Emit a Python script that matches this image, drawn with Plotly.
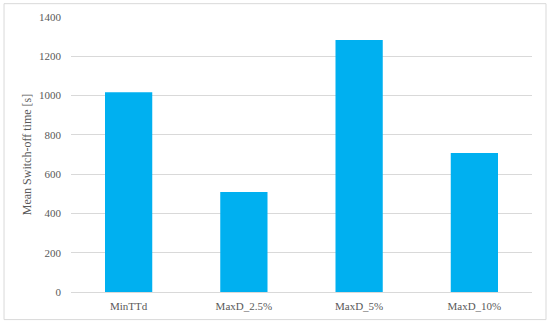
import plotly.graph_objects as go

# data
strategies = ["MinTTd", "MaxD_2.5%", "MaxD_5%", "MaxD_10%"]
switch_off_s = [1017, 509, 1283, 708]
y_ticks = [0, 200, 400, 600, 800, 1000, 1200, 1400]

_BAR = "#00B0F0"
_GRID = "#D9D9D9"
_TXT = "#595959"
_FONT = "Liberation Serif, DejaVu Serif, serif"

fig = go.Figure(go.Bar(
    x=strategies, y=switch_off_s,
    marker=dict(color=_BAR, line=dict(width=0)),
))

fig.update_layout(
    width=550, height=324,
    paper_bgcolor="white",
    plot_bgcolor="white",
    font=dict(family=_FONT, color=_TXT, size=11),
    margin=dict(l=71, r=18, t=17, b=32),
    bargap=0.59,
    showlegend=False,
    xaxis=dict(
        showgrid=False, ticks="", showline=True, linecolor=_GRID, linewidth=1,
        ticklabelstandoff=4,
        tickfont=dict(size=11, color=_TXT),
    ),
    yaxis=dict(
        range=[0, 1400], tickvals=y_ticks,
        showgrid=True, gridcolor=_GRID, gridwidth=1,
        zeroline=True, zerolinecolor=_GRID, zerolinewidth=1,
        ticks="", ticklabelstandoff=9,
        tickfont=dict(size=11, color=_TXT),
        title=dict(text="Mean Switch-off time [s]", standoff=4,
                   font=dict(size=12, color=_TXT)),
    ),
    shapes=[dict(
        type="rect", xref="paper", yref="paper",
        x0=-0.1453, x1=1.0304, y0=-0.1003, y1=1.0485,
        line=dict(color=_GRID, width=1), fillcolor="rgba(0,0,0,0)",
        layer="below",
    )],
)

# drop the default page margin so the figure sits at the window corner
fig.write_html(
    "out.html",
    config={"displayModeBar": False},
    post_script="document.body.style.margin='0';",
)
